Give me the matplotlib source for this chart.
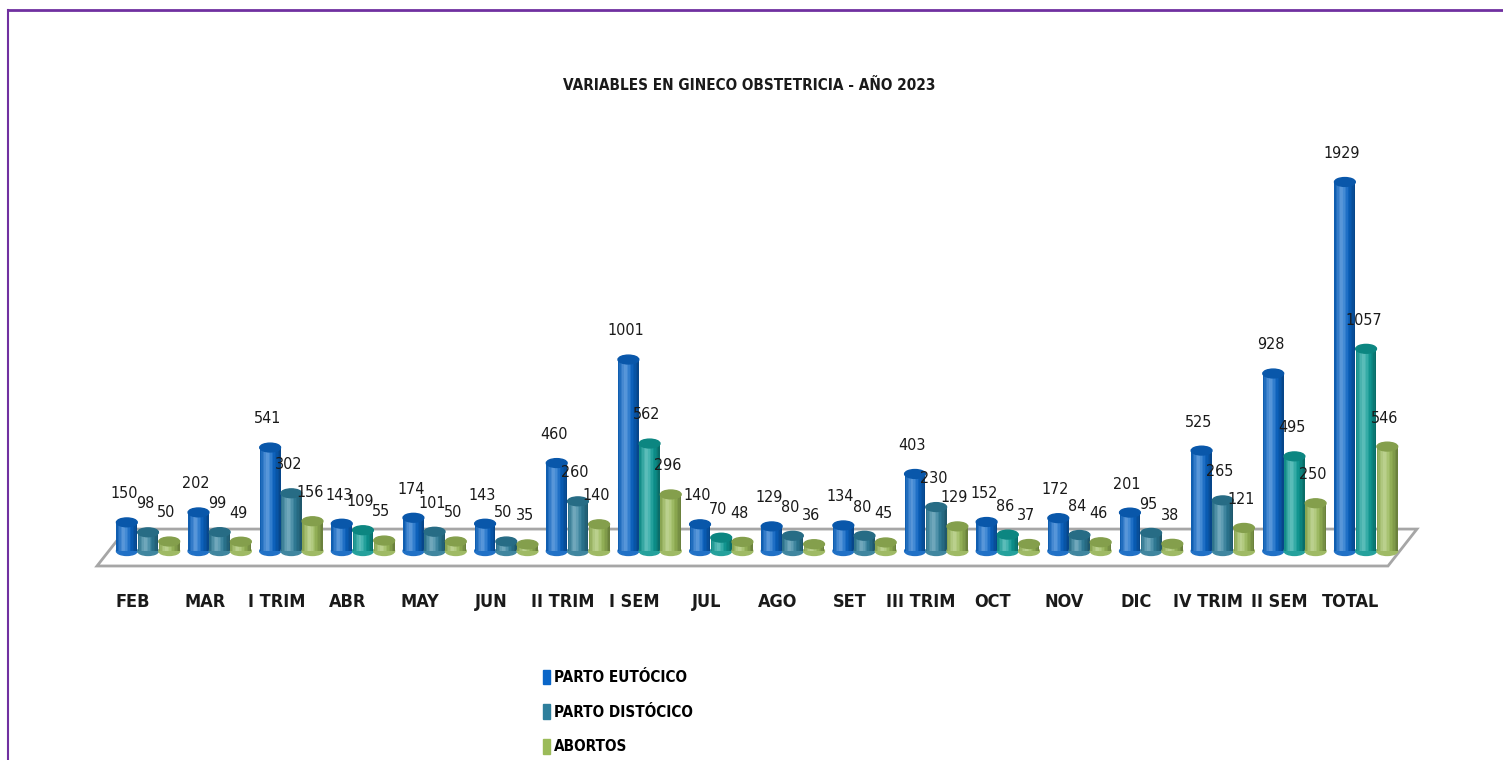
import matplotlib.pyplot as plt
import numpy as np
from matplotlib.patches import Ellipse, Polygon, Rectangle
from matplotlib.colors import to_rgb

plt.rcParams['font.family'] = ['DejaVu Sans']
plt.rcParams['font.stretch'] = 'condensed'

categorias = ['FEB', 'MAR', 'I TRIM', 'ABR', 'MAY', 'JUN', 'II TRIM', 'I SEM', 'JUL',
              'AGO', 'SET', 'III TRIM', 'OCT', 'NOV', 'DIC', 'IV TRIM', 'II SEM', 'TOTAL']
eutocico = [150, 202, 541, 143, 174, 143, 460, 1001, 140, 129, 134, 403, 152, 172, 201, 525, 928, 1929]
distocico = [98, 99, 302, 109, 101, 50, 260, 562, 70, 80, 80, 230, 86, 84, 95, 265, 495, 1057]
abortos = [50, 49, 156, 55, 50, 35, 140, 296, 48, 36, 45, 129, 37, 46, 38, 121, 250, 546]
series_nombres = ['PARTO EUTÓCICO', 'PARTO DISTÓCICO', 'ABORTOS']

azul = '#0a66c8'
acero = '#2e7f9c'
verde_azul = '#0e9e98'
verde = '#9bbb59'
# Excel varied the distocico fill per point
teal_cats = {'ABR', 'I SEM', 'JUL', 'OCT', 'II SEM', 'TOTAL'}
col_dist = [verde_azul if c in teal_cats else acero for c in categorias]

fig = plt.figure(figsize=(15.03, 7.60), dpi=100)
ax = fig.add_axes([0, 0, 1, 1])
ax.set_xlim(-2.066, 18.911)
ax.set_ylim(-1092, 2880)
ax.axis('off')

n = len(categorias)
x = np.arange(n)
w = 0.29
eh = 46  # ellipse height in value units


def shade(c, t):
    r = np.array(to_rgb(c))
    light = 0.35 * max(0.0, 1 - abs(t - 0.35) / 0.35)
    dark = 0.35 * (abs(t - 0.4) / 0.6) ** 2
    r = r + (1 - r) * light
    r = r * (1 - dark)
    return np.clip(r, 0, 1)


def cilindro(xc, v, color, z):
    ns = 14
    edges = np.linspace(xc - w / 2, xc + w / 2, ns + 1)
    ax.add_patch(Ellipse((xc, 0), w, eh, color=shade(color, 0.6), zorder=z))
    for k in range(ns):
        t = (k + 0.5) / ns
        ax.bar(edges[k], v, width=edges[k + 1] - edges[k], bottom=0, align='edge',
               color=shade(color, t), linewidth=0, zorder=z + 0.1)
    top = np.array(to_rgb(color)) * 0.85
    ax.add_patch(Ellipse((xc, v), w, eh, color=top, zorder=z + 0.2))


# floor
ax.add_patch(Polygon([(-0.712, -78), (n - 1 + 0.306, -78), (n - 1 + 0.71, 115), (-0.307, 115)],
                     closed=True, facecolor='white', edgecolor='#a6a6a6', linewidth=2, zorder=1))

datos = [eutocico, distocico, abortos]
for s, vals in enumerate(datos):
    off = (s - 1) * w * 1.02
    for i, v in enumerate(vals):
        if s == 0:
            c = azul
        elif s == 1:
            c = col_dist[i]
        else:
            c = verde
        cilindro(x[i] + off, v, c, 2 + s)
        ax.annotate(str(v), (x[i] + off, v + eh / 2), xytext=(-2, 12), textcoords='offset points',
                    ha='center', va='bottom', fontsize=11.5, color='#1a1a1a', zorder=10)

for i, c in enumerate(categorias):
    ax.text(x[i] - 0.21, -266, c, ha='center', va='center', fontsize=13, fontweight='bold',
            color='#1a1a1a')

fig.text(0.4985, 0.888, 'VARIABLES EN GINECO OBSTETRICIA - AÑO 2023', ha='center', va='center',
         fontsize=11, fontweight='bold', color='#1a1a1a')

handles = [Rectangle((0, 0), 1, 1, color=azul), Rectangle((0, 0), 1, 1, color=acero),
           Rectangle((0, 0), 1, 1, color=verde)]
fig.legend(handles, series_nombres, loc='upper left', bbox_to_anchor=(0.352, 0.137),
           frameon=False, handlelength=0.45, handleheight=1.1, handletextpad=0.25,
           labelspacing=1.25, prop={'weight': 'bold', 'size': 11})

# purple frame
fig.add_artist(plt.Line2D([8 / 1503, 1], [1 - 10 / 760, 1 - 10 / 760], color='#7030a0', linewidth=2))
fig.add_artist(plt.Line2D([8 / 1503, 8 / 1503], [0, 1 - 10 / 760], color='#7030a0', linewidth=1.5))

fig.savefig('out.png', dpi=100)
